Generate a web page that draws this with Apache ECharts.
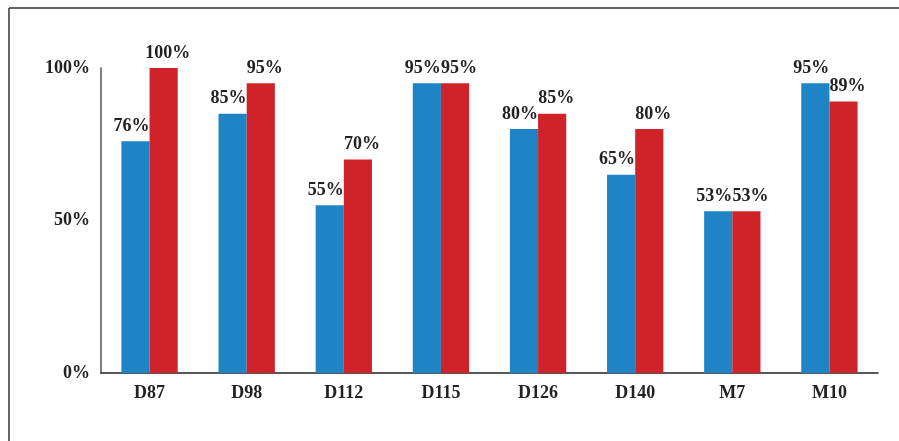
<!DOCTYPE html>
<html>
<head>
<meta charset="utf-8">
<script src="https://cdn.jsdelivr.net/npm/echarts@6/dist/echarts.min.js"></script>
<style>
    html, body {margin: 0; padding: 0; background: #fff;}
    #chart {width: 899px; height: 441px;}
</style>
</head>
<body>
<div id="chart"></div>
<script>
    let categories = ['D87', 'D98', 'D112', 'D115', 'D126', 'D140', 'M7', 'M10'],
        blueValues = [76, 85, 55, 95, 80, 65, 53, 95],
        redValues = [100, 95, 70, 95, 85, 80, 53, 89],
        yTicks = [0, 50, 100]

    let font = {fontFamily: 'Times New Roman', fontWeight: 'bold', color: '#222'}

    let mkSeries = (vals, color, dx) => ({
        type: 'bar',
        data: vals,
        barWidth: '29%',
        barGap: '0%',
        itemStyle: {color: color},
        label: {
            show: true,
            position: 'top',
            distance: 6,
            offset: [dx, 0],
            formatter: '{c}%',
            fontSize: 18,
            ...font
        }
    })

    let option = {
        animation: false,
        grid: {left: 101, right: 21, top: 68, bottom: 68},
        graphic: [
            {type: 'line', shape: {x1: 9, y1: 8, x2: 899, y2: 8}, style: {stroke: '#333', lineWidth: 1.5}},
            {type: 'line', shape: {x1: 9, y1: 8, x2: 9, y2: 441}, style: {stroke: '#333', lineWidth: 1.5}}
        ],
        xAxis: {
            type: 'category',
            data: categories,
            axisTick: {show: false},
            axisLine: {lineStyle: {color: '#222', width: 1.5}},
            axisLabel: {fontSize: 18, margin: 11, ...font}
        },
        yAxis: {
            type: 'value',
            min: yTicks[0],
            max: yTicks[yTicks.length - 1],
            interval: 50,
            splitLine: {show: false},
            axisTick: {show: false},
            axisLine: {show: true, lineStyle: {color: '#555', width: 1.5}},
            axisLabel: {fontSize: 18, margin: 11, formatter: '{value}%', ...font}
        },
        series: [mkSeries(blueValues, '#1f84c6', -4), mkSeries(redValues, '#cf2329', 4)]
    }
    echarts.init(document.getElementById('chart')).setOption(option)
</script>
</body>
</html>
